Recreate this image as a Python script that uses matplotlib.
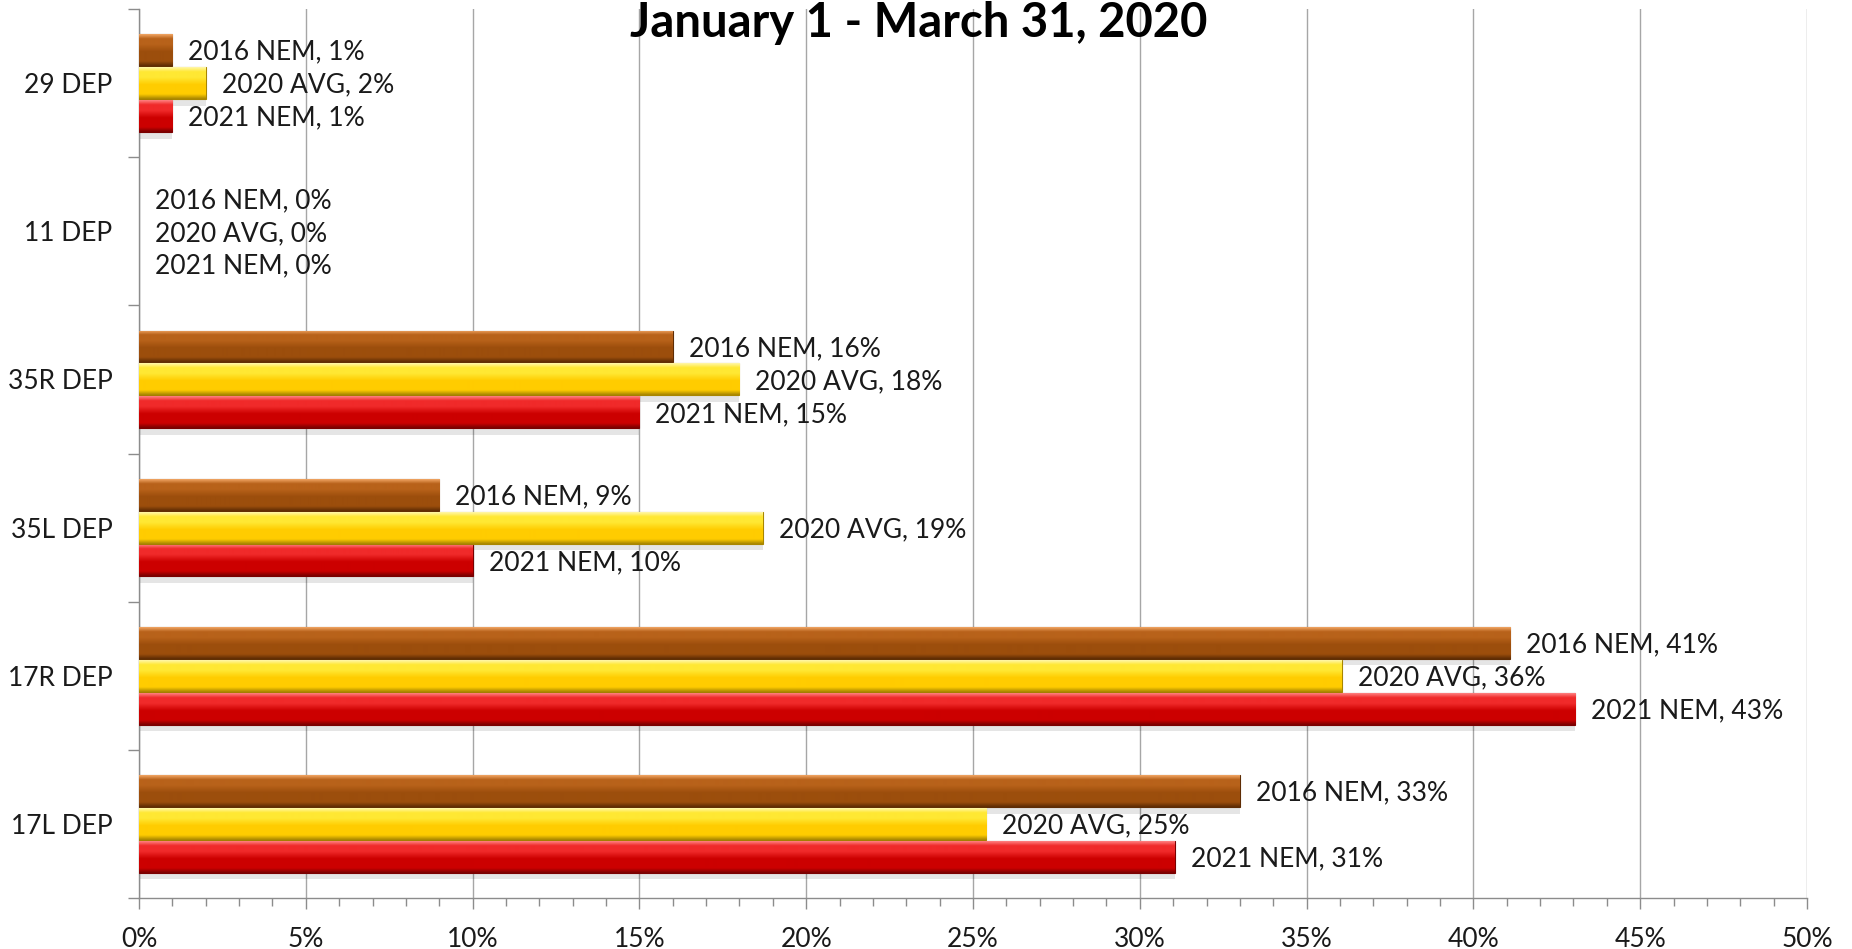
import matplotlib.pyplot as plt
import numpy as np
from matplotlib.colors import to_rgb
from matplotlib.ticker import MultipleLocator, FixedLocator

# data, top to bottom as drawn
runways = ['29 DEP', '11 DEP', '35R DEP', '35L DEP', '17R DEP', '17L DEP']
series = ['2016 NEM', '2020 AVG', '2021 NEM']
nem_2016 = [1.0, 0.0, 16.0, 9.0, 41.1, 33.0]
avg_2020 = [2.0, 0.0, 18.0, 18.7, 36.05, 25.4]
nem_2021 = [1.0, 0.0, 15.0, 10.0, 43.05, 31.05]
title = 'January 1 - March 31, 2020'

# light, bright, main, dark for the "bevel" look
shades = [
    ('#f0a463', '#b8621a', '#9c4e0c', '#5e2c04'),
    ('#fff7a8', '#ffe833', '#ffcc00', '#a88600'),
    ('#ff8080', '#f02a2a', '#cc0000', '#7a0000'),
]

plt.rcParams['font.family'] = ['Lato', 'DejaVu Sans']

fig = plt.figure(figsize=(18.52, 9.49), dpi=100)
ax = fig.add_axes([139 / 1852, 1 - 898 / 949, (1807 - 139) / 1852, (898 - 9) / 949])


def gradient(light, bright, main, dark, n=64):
    t = np.linspace(0, 1, n)
    stops = [0.0, 0.14, 0.32, 0.55, 0.85, 1.0]
    cols = np.array([to_rgb(c) for c in (light, bright, bright, main, main, dark)])
    img = np.stack([np.interp(t, stops, cols[:, c]) for c in range(3)], axis=-1)
    return img[:, None, :]


h = 0.215
step = 0.222
y = np.arange(len(runways))
for k, (name, vals) in enumerate(zip(series, [nem_2016, avg_2020, nem_2021])):
    light, bright, main, dark = shades[k]
    pos = y + (k - 1) * step
    widths = [0.8 if v > 0 else 0 for v in vals]
    # soft shadow under the bars
    ax.barh(pos + 0.045, vals, height=h, color='#000000', alpha=0.10,
            linewidth=0, zorder=2)
    bars = ax.barh(pos, vals, height=h, color=main, edgecolor=dark,
                   linewidth=widths, zorder=3)
    img = gradient(light, bright, main, dark)
    for b, v, p in zip(bars, vals, pos):
        if v > 0:
            x0, y0 = b.get_x(), b.get_y()
            im = ax.imshow(img, extent=(x0, x0 + b.get_width(), y0 + b.get_height(), y0),
                           aspect='auto', zorder=3.5, interpolation='bilinear')
            im.set_clip_path(b)
        ax.annotate(f'{name}, {round(v)}%', (v, p), xytext=(11.5, -1.5),
                    textcoords='offset points', va='center', ha='left',
                    fontsize=19, color='#1a1a1a', zorder=5)

ax.set_xlim(0, 50)
ax.set_ylim(len(runways) - 0.5, -0.5)

ax.xaxis.set_major_locator(MultipleLocator(5))
ax.xaxis.set_minor_locator(MultipleLocator(1))
ax.set_xticklabels([f'{int(t)}%' for t in ax.get_xticks()])
ax.tick_params(axis='x', which='major', length=8, width=1, color='#8c8c8c',
               labelsize=19, pad=13, labelcolor='#1a1a1a')
ax.tick_params(axis='x', which='minor', length=6, width=1, color='#8c8c8c')

ax.set_yticks(y)
ax.set_yticklabels(runways)
ax.yaxis.set_minor_locator(FixedLocator(np.arange(len(runways) + 1) - 0.5))
ax.tick_params(axis='y', which='major', length=0, labelsize=19, pad=19,
               labelcolor='#1a1a1a')
ax.tick_params(axis='y', which='minor', length=8, width=1, color='#8c8c8c')

ax.grid(axis='x', which='major', color='#a6a6a6', linewidth=1, zorder=0)
ax.set_axisbelow(True)
for s in ['top', 'right']:
    ax.spines[s].set_visible(False)
for s in ['left', 'bottom']:
    ax.spines[s].set_color('#8c8c8c')
    ax.spines[s].set_linewidth(1)

fig.text(919 / 1852, 1 - 37 / 949, title, ha='center', va='baseline',
         fontsize=34, fontweight='bold', color='black')

fig.savefig('out.png', dpi=100)
